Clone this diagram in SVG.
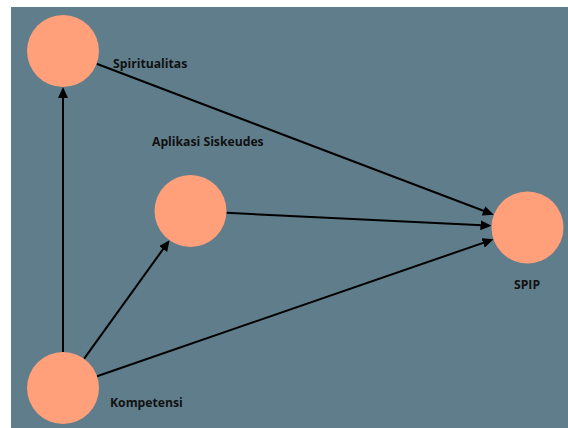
<svg xmlns="http://www.w3.org/2000/svg" width="568" height="428" viewBox="0 0 568 428">
<style>
.bg{fill:#607d8b}
.node{fill:#ffa07a}
.lbl{font-family:"Open Sans","DejaVu Sans",sans-serif;font-weight:bold;font-size:12.2px;fill:#111}
.edge{stroke:#000;stroke-width:2;fill:none}
</style>
<defs>
<marker id="arr" viewBox="0 0 11 10" markerWidth="11" markerHeight="10" refX="7" refY="5" orient="auto" markerUnits="userSpaceOnUse">
<path d="M0,0 L11,5 L0,10 z" fill="#000"/>
</marker>
</defs>
<rect class="bg" x="11" y="7" width="557" height="421"/>
<g id="connectors">
<line class="edge" x1="96.6" y1="63.8" x2="490" y2="213.3" marker-end="url(#arr)"/>
<line class="edge" x1="226.5" y1="212.8" x2="487.5" y2="225.5" marker-end="url(#arr)"/>
<line class="edge" x1="97" y1="376.2" x2="489.7" y2="240.6" marker-end="url(#arr)"/>
<line class="edge" x1="84" y1="358.8" x2="167.2" y2="243.4" marker-end="url(#arr)"/>
<line class="edge" x1="63" y1="352" x2="63" y2="91" marker-end="url(#arr)"/>
</g>
<g id="node-spiritualitas">
<circle class="node" cx="63" cy="51" r="36"/>
<text class="lbl" x="113" y="68">Spiritualitas</text>
</g>
<g id="node-aplikasi">
<circle class="node" cx="190.5" cy="211" r="36"/>
<text class="lbl" x="152" y="146">Aplikasi Siskeudes</text>
</g>
<g id="node-spip">
<circle class="node" cx="527.5" cy="227.5" r="36"/>
<text class="lbl" x="514" y="289">SPIP</text>
</g>
<g id="node-kompetensi">
<circle class="node" cx="63" cy="388" r="36"/>
<text class="lbl" x="110" y="407">Kompetensi</text>
</g>
</svg>
